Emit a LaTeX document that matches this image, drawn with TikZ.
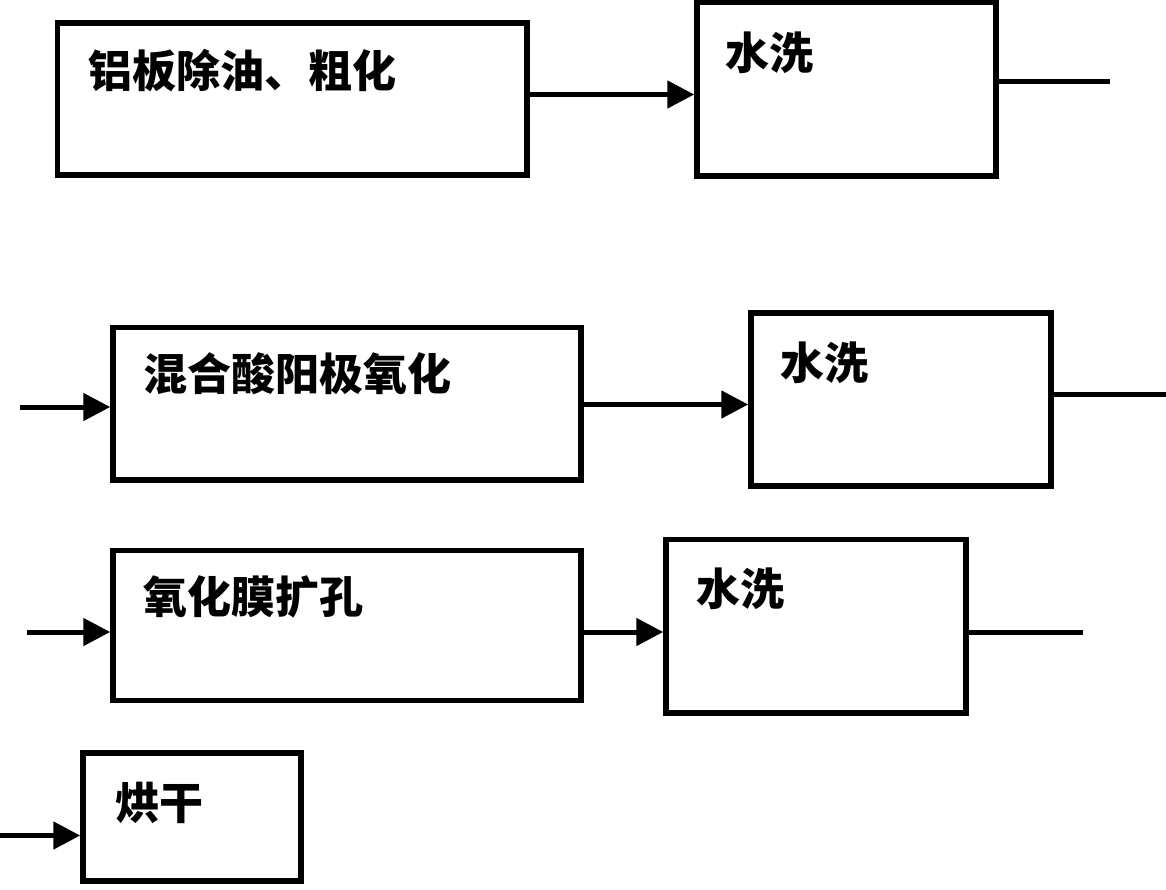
\documentclass[tikz,border=0pt]{standalone}
\usepackage{fontspec}
\newfontfamily\cjk{Noto Sans CJK SC}
\usetikzlibrary{arrows.meta}
\tikzset{
  box/.style={draw, line width=5.5pt, inner sep=0pt, anchor=center},
  lbl/.style={inner sep=0pt, anchor=west, font=\cjk\bfseries\fontsize{44}{46}\selectfont},
  arr/.style={line width=5pt, -{Triangle[length=27pt,width=27pt]}},
  ln/.style={line width=5pt}
}
\begin{document}
\begin{tikzpicture}[x=1pt,y=-1pt]
\useasboundingbox (0,0) rectangle (1166,889);
% boxes
\node[box, minimum width=469.5pt, minimum height=152pt] (b1) at (292.25,99) {};
\node[box, minimum width=299pt, minimum height=173.5pt] (b2) at (846.5,89.25) {};
\node[box, minimum width=468pt, minimum height=152.5pt] (b3) at (347,403.75) {};
\node[box, minimum width=300pt, minimum height=173pt] (b4) at (901,399.5) {};
\node[box, minimum width=468pt, minimum height=150pt] (b5) at (347,625.5) {};
\node[box, minimum width=300pt, minimum height=173.5pt] (b6) at (816,626.25) {};
\node[box, minimum width=218pt, minimum height=128pt] (b7) at (192,817) {};
% labels
\node[lbl] (t1) at (88,71) {铝板除油、粗化};
\node[lbl] (t2) at (725,53) {水洗};
\node[lbl] (t3) at (143,374) {混合酸阳极氧化};
\node[lbl] (t4) at (780,363) {水洗};
\node[lbl] (t5) at (143,597) {氧化膜扩孔};
\node[lbl] (t6) at (696,589) {水洗};
\node[lbl] (t7) at (115,803) {烘干};
% connector rows and free ends
\coordinate (r1) at (0,94.5);
\coordinate (e1) at (1110,81);
\coordinate (s2) at (20,407);
\coordinate (r2) at (0,404.5);
\coordinate (e2) at (1166,394);
\coordinate (s3) at (27,632);
\coordinate (r3) at (0,632);
\coordinate (e3) at (1083,632);
\coordinate (s4) at (0,835.5);
% connectors
\draw[arr] (b1.east |- r1) -- (b2.west |- r1);
\draw[ln] (b2.east |- e1) -- (e1);
\draw[arr] (s2) -- (b3.west |- s2);
\draw[arr] (b3.east |- r2) -- (b4.west |- r2);
\draw[ln] (b4.east |- e2) -- (e2);
\draw[arr] (s3) -- (b5.west |- s3);
\draw[arr] (b5.east |- r3) -- (b6.west |- r3);
\draw[ln] (b6.east |- e3) -- (e3);
\draw[arr] (s4) -- (b7.west |- s4);
\end{tikzpicture}
\end{document}
